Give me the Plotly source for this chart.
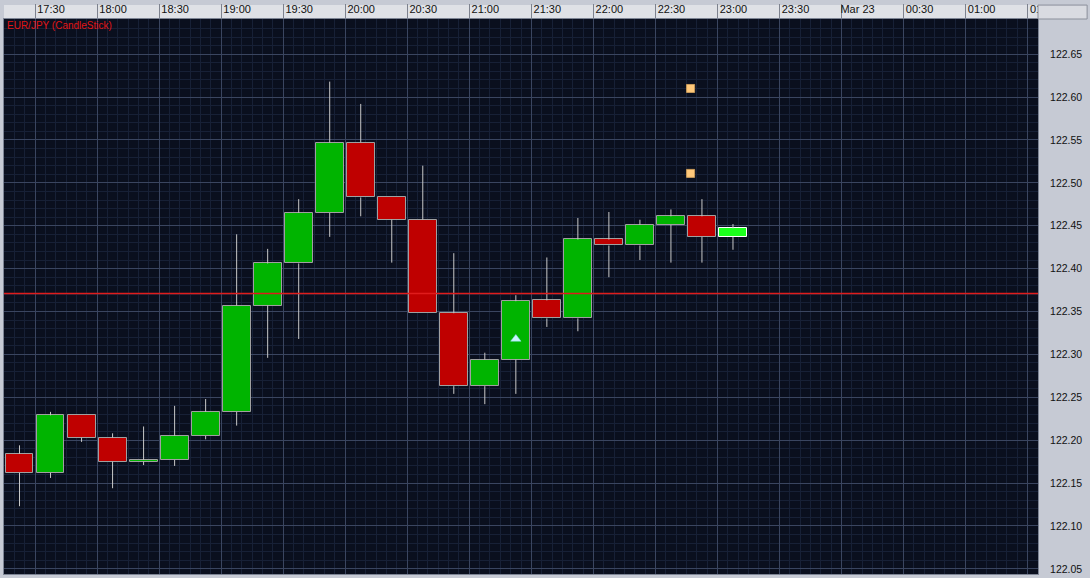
import pandas as pd
import plotly.graph_objects as go

# ---- data (15-minute EUR/JPY candles) ----
times = ["17:15", "17:30", "17:45", "18:00", "18:15", "18:30", "18:45", "19:00",
         "19:15", "19:30", "19:45", "20:00", "20:15", "20:30", "20:45", "21:00",
         "21:15", "21:30", "21:45", "22:00", "22:15", "22:30", "22:45", "23:00"]
opens = [122.184, 122.162, 122.229, 122.203, 122.175, 122.177, 122.205, 122.233,
         122.357, 122.406, 122.465, 122.547, 122.483, 122.457, 122.348, 122.263,
         122.294, 122.363, 122.342, 122.434, 122.427, 122.451, 122.461, 122.437]
highs = [122.194, 122.233, 122.229, 122.208, 122.216, 122.240, 122.248, 122.440,
         122.423, 122.481, 122.618, 122.592, 122.483, 122.520, 122.418, 122.302,
         122.369, 122.413, 122.459, 122.466, 122.457, 122.469, 122.481, 122.452]
lows = [122.123, 122.156, 122.198, 122.144, 122.171, 122.170, 122.201, 122.217,
        122.296, 122.318, 122.437, 122.461, 122.407, 122.348, 122.254, 122.242,
        122.254, 122.332, 122.327, 122.390, 122.410, 122.407, 122.407, 122.422]
closes = [122.162, 122.229, 122.203, 122.175, 122.177, 122.205, 122.233, 122.357,
          122.406, 122.465, 122.547, 122.483, 122.457, 122.348, 122.263, 122.294,
          122.362, 122.342, 122.434, 122.427, 122.451, 122.461, 122.437, 122.447]

ref_line_price = 122.371
signal_time = "21:22:30"
signal_price = 122.318
order_time = "22:47"
order_prices = [122.610, 122.511]

tick_times = ["17:30", "18:00", "18:30", "19:00", "19:30", "20:00", "20:30", "21:00",
              "21:30", "22:00", "22:30", "23:00", "23:30", "00:00", "00:30", "01:00", "01:30"]
tick_labels = ["17:30", "18:00", "18:30", "19:00", "19:30", "20:00", "20:30", "21:00",
               "21:30", "22:00", "22:30", "23:00", "23:30", "Mar 23", "00:30", "01:00", "01:30"]
title_text = "EUR/JPY (CandleStick)"


def to_dt(hm):
    parts = hm.split(":")
    h = int(parts[0])
    day = "2010-03-22" if h >= 12 else "2010-03-23"
    return pd.Timestamp(f"{day} {hm}")


period = pd.Timedelta(minutes=15)
centers = [to_dt(t) + period / 2 for t in times]
n = len(times)

GREEN = "#00b400"
RED = "#bf0000"
LIVE = "#1cff1c"

body_colors, border_colors = [], []
for i in range(n):
    if i == n - 1:
        body_colors.append(LIVE)
        border_colors.append("#ffffff")
    else:
        body_colors.append(GREEN if closes[i] >= opens[i] else RED)
        border_colors.append("#a0a0a0")

# wick segments (outside the bodies)
wx, wy = [], []
for i in range(n):
    top = max(opens[i], closes[i])
    bot = min(opens[i], closes[i])
    if highs[i] > top:
        wx += [centers[i], centers[i], None]
        wy += [top, highs[i], None]
    if lows[i] < bot:
        wx += [centers[i], centers[i], None]
        wy += [bot, lows[i], None]

fig = go.Figure()
fig.add_trace(go.Scatter(x=wx, y=wy, mode="lines",
                         line=dict(color="#c8c8c8", width=1),
                         hoverinfo="skip", showlegend=False))
fig.add_trace(go.Bar(
    x=centers,
    y=[abs(c - o) for o, c in zip(opens, closes)],
    base=[min(o, c) for o, c in zip(opens, closes)],
    width=13.5 * 60 * 1000,
    marker=dict(color=body_colors, line=dict(color=border_colors, width=1)),
    showlegend=False,
))
fig.add_trace(go.Scatter(
    x=[to_dt(signal_time)], y=[signal_price],
    mode="markers",
    marker=dict(symbol="triangle-up", size=9, color="#c8f4ff",
                line=dict(color="#8fd8f0", width=0.5)),
    showlegend=False))
fig.add_trace(go.Scatter(
    x=[to_dt(order_time)] * len(order_prices), y=order_prices,
    mode="markers",
    marker=dict(symbol="square", size=8, color="#ffc87a",
                line=dict(color="#c89a5a", width=1)),
    showlegend=False))

# red reference price line drawn as a trace across the full time range
x0 = to_dt("17:15")
x1 = to_dt("01:35")
fig.add_trace(go.Scatter(
    x=[x0, x1], y=[ref_line_price, ref_line_price], mode="lines",
    line=dict(color="#e01c1c", width=1.3), hoverinfo="skip", showlegend=False))

# top time band and right header box
fig.add_shape(type="rect", xref="paper", yref="paper", x0=0, x1=1,
              y0=1, y1=1.0251, fillcolor="#dfe1e6", line=dict(width=0),
              layer="below")
fig.add_shape(type="rect", xref="paper", yref="paper", x0=1.0, x1=1.0475,
              y0=1.0, y1=1.0251, fillcolor="#d9dbe1",
              line=dict(color="#8a8f9a", width=1), layer="above")

fig.add_annotation(text=title_text, xref="paper", yref="paper", x=0, y=0.989,
                   xanchor="left", yanchor="middle", xshift=1, showarrow=False,
                   font=dict(family="Liberation Sans, Arial", size=10, color="#e01515"))

fig.update_layout(
    width=1090, height=578,
    margin=dict(l=4, r=52, t=17, b=3),
    paper_bgcolor="#c6cad4",
    plot_bgcolor="#0a0f1e",
    bargap=0,
    font=dict(family="Liberation Sans, Arial", size=11, color="#000000"),
    xaxis=dict(
        type="date", side="top", range=[x0, x1],
        tickmode="array", tickvals=[to_dt(t) for t in tick_times], ticktext=tick_labels,
        ticks="outside", ticklen=14, tickwidth=1, tickcolor="#7d828e",
        ticklabelshift=16, ticklabelstandoff=-13,
        tickfont=dict(size=11, color="#111111"),
        showgrid=True, gridcolor="#3a4560", gridwidth=1,
        minor=dict(dtick=5 * 60 * 1000, tick0=to_dt("17:30"), showgrid=True,
                   gridcolor="#172036", gridwidth=1),
        showline=True, linecolor="#7d8494", mirror=True, zeroline=False,
    ),
    yaxis=dict(
        side="right", range=[122.044, 122.691],
        tick0=122.05, dtick=0.05, tickformat=".2f",
        ticks="", ticklabelstandoff=9,
        tickfont=dict(size=10.5, color="#111111"),
        showgrid=True, gridcolor="#3a4560", gridwidth=1,
        minor=dict(dtick=0.01, tick0=122.05, showgrid=True,
                   gridcolor="#172036", gridwidth=1),
        showline=True, linecolor="#7d8494", mirror=True, zeroline=False,
    ),
)

fig.write_html("out.html",
               config={"displayModeBar": False},
               post_script="document.body.style.margin='0px';"
                           "document.body.style.overflow='hidden';")
